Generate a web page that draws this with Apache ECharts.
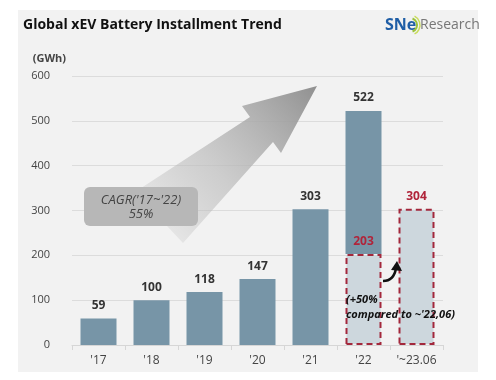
<!DOCTYPE html>
<html><head><meta charset="utf-8">
<script src="https://cdn.jsdelivr.net/npm/echarts@6/dist/echarts.min.js"></script>
<style>html,body{margin:0;padding:0;background:#fff}#c{width:496px;height:380px}</style>
</head><body><div id="c"></div>
<script>
const categories = ["'17", "'18", "'19", "'20", "'21", "'22", "'~23.06"];
const annualTotal = [59, 100, 118, 147, 303, 522, null];
const firstHalf = [null, null, null, null, null, 203, 304];
const yTicks = [0, 100, 200, 300, 400, 500, 600];

const upper = annualTotal.map((v, i) => v == null ? null : v - (firstHalf[i] || 0));
const chart = echarts.init(document.getElementById('c'), null, {renderer: 'canvas'});
const F = '"Open Sans", "Noto Sans", sans-serif';
chart.setOption({
  backgroundColor: '#ffffff',
  animation: false,
  grid: {left: 72, right: 53, top: 76, bottom: 35},
  xAxis: {
    type: 'category', data: categories,
    axisLine: {lineStyle: {color: '#d6d6d6'}},
    axisTick: {show: true, lineStyle: {color: '#d6d6d6'}},
    axisLabel: {color: '#444', fontSize: 12, fontFamily: F, margin: 10}
  },
  yAxis: {
    type: 'value', min: 0, max: 600, interval: 100,
    name: '(GWh)', nameLocation: 'end', nameGap: 12,
    nameTextStyle: {color: '#444', fontSize: 11, fontFamily: F, fontWeight: 'bold', align: 'right', padding: [0, 6, 0, 0]},
    axisLine: {show: false}, axisTick: {show: false},
    splitLine: {lineStyle: {color: '#dcdcdc', width: 1}},
    axisLabel: {color: '#444', fontSize: 11, fontFamily: F, margin: 22,
      formatter: v => yTicks.includes(v) ? String(v) : ''}
  },
  series: [
    {
      type: 'bar', stack: 'a', barWidth: 36, data: firstHalf,
      itemStyle: {color: '#cdd7dd', borderColor: '#a3283c', borderWidth: 2, borderType: [6, 4]},
      label: {show: true, position: 'top', distance: 6, color: '#b0243a', fontWeight: 'bold', fontSize: 12, fontFamily: F},
      z: 3
    },
    {
      type: 'bar', stack: 'a', barWidth: 36, data: upper,
      itemStyle: {color: '#7795a7'},
      label: {show: true, position: 'top', distance: 7, color: '#333', fontWeight: 'bold', fontSize: 12, fontFamily: F,
        formatter: p => annualTotal[p.dataIndex]},
      z: 2
    }
  ],
  graphic: [
    {type: 'rect', shape: {x: 18, y: 10, width: 460, height: 362}, style: {fill: '#f2f2f2'}, z: -10, silent: true},
    {type: 'text', style: {x: 23, y: 25, text: 'Global xEV Battery Installment Trend', fill: '#111', font: 'bold 14px ' + F, textVerticalAlign: 'middle'}},
    {type: 'text', style: {x: 385, y: 25, text: 'SNe', fill: '#1f5ea6', font: 'bold 16px ' + F, textVerticalAlign: 'middle'}},
    {type: 'arc', shape: {cx: 410, cy: 25, r: 7, startAngle: -1.2, endAngle: 1.2}, style: {stroke: '#9bc23c', lineWidth: 2, fill: null}},
    {type: 'arc', shape: {cx: 410, cy: 25, r: 10, startAngle: -1.1, endAngle: 1.1}, style: {stroke: '#c9dc5a', lineWidth: 1.5, fill: null}},
    {type: 'text', style: {x: 420, y: 25, text: 'Research', fill: '#777', font: '14px ' + F, textVerticalAlign: 'middle'}},
    {type: 'polygon', z: 5, shape: {points: [[317, 86], [242, 106], [250, 117], [135, 192], [183, 243], [273, 142], [281, 153]]},
      style: {fill: new echarts.graphic.LinearGradient(0, 1, 1, 0, [
        {offset: 0, color: 'rgba(180,180,180,0)'},
        {offset: 0.45, color: 'rgba(190,190,190,0.7)'},
        {offset: 1, color: '#909090'}])}},
    {type: 'rect', z: 6, shape: {x: 84, y: 187, width: 114, height: 39, r: 6}, style: {fill: '#b7b7b7'}},
    {type: 'text', z: 7, style: {x: 141, y: 200, text: "CAGR('17~'22)", fill: '#444', font: 'italic 13px ' + F, textAlign: 'center', textVerticalAlign: 'middle'}},
    {type: 'text', z: 7, style: {x: 141, y: 214, text: '55%', fill: '#444', font: 'italic 13px ' + F, textAlign: 'center', textVerticalAlign: 'middle'}},
    {type: 'text', z: 7, style: {x: 346, y: 300, text: '(+50%', fill: '#111', font: 'italic bold 11px ' + F, textVerticalAlign: 'middle'}},
    {type: 'text', z: 7, style: {x: 346, y: 315, text: "compared to ~'22,06)", fill: '#111', font: 'italic bold 11px ' + F, textVerticalAlign: 'middle'}},
    {type: 'bezierCurve', z: 7, shape: {x1: 383, y1: 281, x2: 396, y2: 268, cpx1: 394, cpy1: 281}, style: {stroke: '#111', lineWidth: 2.5, fill: null}},
    {type: 'polygon', z: 7, shape: {points: [[397, 261], [391, 270], [402, 271]]}, style: {fill: '#111'}}
  ]
});
</script></body></html>
